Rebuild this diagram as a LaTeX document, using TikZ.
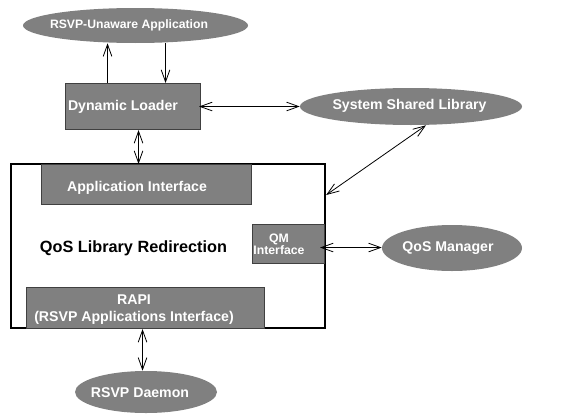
\documentclass[tikz,border=0pt]{standalone}
\usepackage{fontspec}
\setmainfont{Liberation Sans}
\usetikzlibrary{arrows.meta,shapes.geometric,calc}
\definecolor{boxgray}{HTML}{808080}
\definecolor{edgegray}{HTML}{404040}
\tikzset{
  px/.style={x=0.75pt,y=-0.75pt},
  graybox/.style={draw=edgegray,line width=0.8pt,fill=boxgray,inner sep=0pt,anchor=north west},
  grayell/.style={ellipse,fill=boxgray,inner sep=0pt},
  wtext/.style={text=white,font=\bfseries\fontsize{10.6}{12.5}\selectfont,inner sep=0pt},
  btext/.style={text=black,font=\bfseries\fontsize{12.2}{14}\selectfont,inner sep=0pt},
  stext/.style={text=white,font=\bfseries\fontsize{9.2}{10.5}\selectfont,inner sep=0pt},
  barb/.tip={Straight Barb[length=9pt,width=6.5pt,line width=0.6pt]},
  arr/.style={line width=0.6pt,-barb},
  darr/.style={line width=0.6pt,barb-barb},
}
\begin{document}
\begin{tikzpicture}[px]
\useasboundingbox (0,0) rectangle (566,414);
% big box
\node[draw=black,line width=1.6pt,fill=white,anchor=north west,minimum width=314*0.75pt,minimum height=164*0.75pt,inner sep=0pt] (big) at (10,163) {};
% ellipses
\node[grayell,minimum width=225*0.75pt,minimum height=35*0.75pt] (rua) at (135.5,25.5) {};
\node[wtext,font=\bfseries\fontsize{9.15}{11}\selectfont] (ruat) at (129,25) {RSVP-Unaware Application};
\node[grayell,minimum width=222*0.75pt,minimum height=37*0.75pt] (ssl) at (411,106.5) {};
\node[wtext] (sslt) at (409.5,106) {System Shared Library};
\node[grayell,minimum width=140*0.75pt,minimum height=46*0.75pt] (qosm) at (452,248) {};
\node[wtext] (qosmt) at (448,248) {QoS Manager};
\node[grayell,minimum width=142*0.75pt,minimum height=42*0.75pt] (rd) at (146,392) {};
\node[wtext] (rdt) at (140,393) {RSVP Daemon};
% boxes
\node[graybox,minimum width=135*0.75pt,minimum height=46*0.75pt] (dl) at (65,83) {};
\node[wtext] (dlt) at (123,107) {Dynamic Loader};
\node[graybox,minimum width=210*0.75pt,minimum height=40*0.75pt] (ai) at (41,164) {};
\node[wtext] (ait) at (137,188) {Application Interface};
\node[graybox,minimum width=72*0.75pt,minimum height=39*0.75pt] (qm) at (252,224) {};
\node[stext,align=center] (qmt) at (279,244) {QM\\[-1.5pt]Interface};
\node[graybox,minimum width=238*0.75pt,minimum height=41*0.75pt] (rapi) at (26,287) {};
\node[wtext,align=center] (rapit) at (134,309.5) {RAPI\\(RSVP Applications Interface)};
\node[btext] (qlr) at (133.5,248) {QoS Library Redirection};
% connectors
\draw[arr] ([xshift=-25.5*0.75pt]dl.north) -- ([xshift=-25.5*0.75pt]dl.north |- rua.south);
\draw[arr] ([xshift=32.5*0.75pt]dl.north |- rua.south) -- ([xshift=32.5*0.75pt]dl.north);
\draw[darr] ([xshift=-2*0.75pt]dl.east) -- (ssl.west);
\draw[darr] ([xshift=5.5*0.75pt]dl.south) -- ([xshift=5.5*0.75pt]dl.south |- ai.north);
\draw[darr] ([xshift=15*0.75pt]ssl.south) -- ([yshift=-32*0.75pt]big.north east);
\draw[darr] ([xshift=-5*0.75pt,yshift=-3.5*0.75pt]qm.east) -- ([yshift=-3.5*0.75pt]qm.east -| qosm.west);
\draw[darr] ([xshift=-3*0.75pt]rapi.south) -- ([xshift=-3*0.75pt]rapi.south |- rd.north);
\end{tikzpicture}
\end{document}
